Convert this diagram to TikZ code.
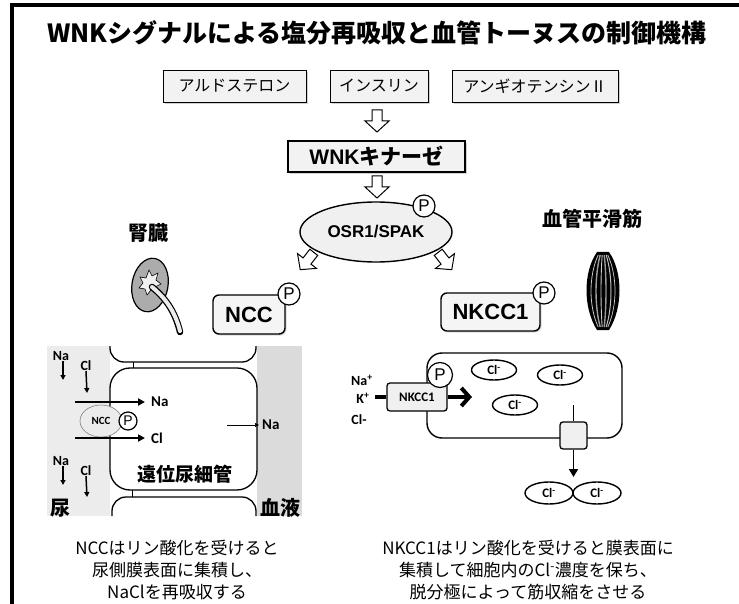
\documentclass[tikz,border=0pt]{standalone}
\usepackage{fontspec}
\setmainfont{Noto Sans CJK JP}
\newfontfamily\arialf{Liberation Sans}
\newfontfamily\calf{Carlito}
\usetikzlibrary{shapes.geometric,arrows.meta,shadows}

\begin{document}
\begin{tikzpicture}[x=1pt,y=-1pt,
  hormone/.style={draw,fill=gray!10,line width=0.9pt,minimum height=32pt,inner sep=0pt,
    font=\fontsize{16}{18}\selectfont,
    drop shadow={shadow xshift=2pt,shadow yshift=-2pt,fill=gray!60,opacity=0.6}},
  kinase/.style={draw,fill=gray!10,line width=1.1pt,minimum height=31pt,inner sep=0pt,
    drop shadow={shadow xshift=2pt,shadow yshift=-2pt,fill=gray!60,opacity=0.6}},
  carrier/.style={draw,fill=gray!8,line width=1.4pt,rounded corners=6pt,inner sep=0pt,
    font=\arialf\bfseries\fontsize{22}{22}\selectfont,
    drop shadow={shadow xshift=1.5pt,shadow yshift=-1.5pt,fill=gray!60,opacity=0.5}},
  hollowarrow/.pic={\draw[fill=white,line width=1pt,line join=miter]
    (-5,-11) -- (5,-11) -- (5,0) -- (12,0) -- (0,11) -- (-12,0) -- (-5,0) -- cycle;},
  pcirc/.style={circle,draw,fill=white,line width=1.2pt,minimum size=#1,inner sep=0pt},
  pbig/.style={pcirc=22pt,font=\arialf\fontsize{17}{17}\selectfont},
  psmall/.style={pcirc=18pt,font=\arialf\fontsize{14}{14}\selectfont},
  ion/.style={font=\calf\bfseries\fontsize{14}{14}\selectfont,inner sep=0pt},
  ionbig/.style={ion,font=\calf\bfseries\fontsize{15}{15}\selectfont},
  chl/.style={ellipse,draw,line width=1.4pt,fill=white,minimum width=45pt,minimum height=20pt,
    inner sep=0pt,font=\calf\bfseries\fontsize{13}{13}\selectfont},
  down/.style={line width=1.5pt,-{Triangle[length=5pt,width=5pt]}},
  flow/.style={line width=1.8pt,-{Triangle[length=7pt,width=7pt]}},
  label/.style={font=\bfseries\fontsize{20}{20}\selectfont,inner sep=0pt},
  note/.style={align=center,font=\fontsize{17}{22}\selectfont,inner sep=0pt},
]
\useasboundingbox (0,0) rectangle (739,604);

% frame
\draw[line width=4pt] (11.5,604) -- (11.5,5.5) -- (739,5.5);

% title
\node[font=\bfseries\fontsize{25}{28}\selectfont] (title) at (377,33)
  {WNKシグナルによる塩分再吸収と血管トーヌスの制御機構};

% hormones
\node[hormone,minimum width=143pt] (ald) at (234.5,86) {アルドステロン};
\node[hormone,minimum width=98pt]  (ins) at (379,86) {インスリン};
\node[hormone,minimum width=166pt] (ang) at (535,86) {アンギオテンシンⅡ};

% cascade
\pic (ar1) at (377,121) {hollowarrow};
\node[kinase,minimum width=177pt] (wnk) at (376.5,156.5)
  {\bfseries\fontsize{21}{21}\selectfont{\arialf WNK}キナーゼ};
\pic (ar2) at (377,187) {hollowarrow};
\node[ellipse,draw,fill=gray!12,line width=1.4pt,minimum width=152pt,minimum height=60pt,
  font=\arialf\bfseries\fontsize{17}{17}\selectfont] (osr) at (376,232) {OSR1/SPAK};
\node[pbig] (posr) at (424,206) {P};

\pic[rotate=-38] (arl) at (307,261) {hollowarrow};
\pic[rotate=38] (arr) at (445,261) {hollowarrow};

\node[carrier,minimum width=72pt,minimum height=39pt] (ncc) at (249,314.5) {NCC};
\node[pbig] (pncc) at (289,294) {P};
\node[carrier,minimum width=99pt,minimum height=38pt] (nkcc) at (490.5,312) {NKCC1};
\node[pbig] (pnkcc) at (544,293) {P};

% organ labels
\node[label] (kid) at (148,233) {腎臓};
\node[label] (vsm) at (592,219) {血管平滑筋};

% kidney
\draw[line width=1.2pt,fill=gray!65] (150,285) ellipse [x radius=18pt,y radius=27pt,rotate=-10];
\fill[gray!12,draw=black,line width=0.6pt]
  (149,270) -- (152,276) -- (158,273) -- (156,280) -- (161,284) -- (155,287)
  -- (157,294) -- (151,290) -- (147,295) -- (145,289) -- (139,288) -- (143,283)
  -- (140,277) -- (146,278) -- cycle;
\draw[line width=6.5pt,line cap=round] (152,287) .. controls (168,300) and (176,315) .. (180,332);
\draw[line width=4pt,gray!15,line cap=round] (152,287) .. controls (168,300) and (176,315) .. (180,331);

% smooth muscle
\fill[black] (597,252) -- (609,252) .. controls (623,272) and (623,308) .. (609,330)
  -- (597,330) .. controls (583,308) and (583,272) .. (597,252) -- cycle;
\foreach \k/\g/\w in {-12/45/0.8,-7/75/1.4,-2/40/0.9,3/80/1.4,8/50/1.0,12/35/0.7} {
  \draw[gray!\g,line width=\w pt] (603+\k*0.4,255) .. controls (603+\k*1.2,276)
    and (603+\k*1.2,306) .. (603+\k*0.4,327);
}

% distal tubule
\fill[gray!15] (47,346) rectangle (110,516);
\fill[gray!28] (257,346) rectangle (302,516);
\draw[line width=1.3pt,rounded corners=14pt] (110,346) -- (110,362) -- (256,362) -- (256,346);
\draw[line width=1.3pt,rounded corners=20pt,fill=white] (110,368) rectangle (257,490);
\draw[line width=1.3pt,rounded corners=14pt] (112,516) -- (112,497) -- (256,497) -- (256,516);
\draw[line width=1pt] (133,362) -- (133,368);
\draw[line width=1pt] (132,490) -- (132,497);

\node[ellipse,draw=gray,fill=gray!15,line width=0.6pt,minimum width=42pt,minimum height=32pt,
  inner sep=0pt,font=\calf\bfseries\fontsize{11}{11}\selectfont] (nccs) at (101,421) {NCC};
\node[psmall] (pnccs) at (128,421) {P};

\coordinate (naS) at (75,402);  \coordinate (naE) at (145,402);
\coordinate (clS) at (75,438);  \coordinate (clE) at (145,438);
\draw[flow] (naS) -- (naE);
\draw[flow] (clS) -- (clE);
\node[ionbig,anchor=west] (naIn) at (151,402) {Na};
\node[ionbig,anchor=west] (clIn) at (151,438) {Cl};
\coordinate (baS) at (227,425); \coordinate (baE) at (259,425);
\draw[line width=0.7pt,-{Triangle[length=4pt,width=4pt]}] (baS) -- (baE);
\node[ionbig,anchor=west] (naOut) at (262,425) {Na};

\node[ion] (na1) at (61,356) {Na};
\node[ion] (cl1) at (86,366) {Cl};
\coordinate (na1e) at (63,380); \coordinate (cl1e) at (87,393);
\draw[down] (na1.south) ++(2pt,0) -- (na1e);
\draw[down] (cl1.south) -- (cl1e);
\node[ion] (na2) at (61,461) {Na};
\node[ion] (cl2) at (86,471) {Cl};
\coordinate (na2e) at (63,485); \coordinate (cl2e) at (87,497);
\draw[down] (na2.south) ++(2pt,0) -- (na2e);
\draw[down] (cl2.south) -- (cl2e);

\node[font=\bfseries\fontsize{19}{19}\selectfont] (dct) at (185,474) {遠位尿細管};
\node[label] (urine) at (60,508) {尿};
\node[label] (blood) at (280,508) {血液};

% smooth muscle cell
\draw[line width=1.4pt,rounded corners=15pt] (427,353) rectangle (622,438);
\node[draw,fill=gray!12,line width=1.3pt,rounded corners=3pt,minimum width=60pt,minimum height=28pt,
  inner sep=0pt,font=\calf\bfseries\fontsize{13}{13}\selectfont] (nkccs) at (417,397) {NKCC1};
\node[pcirc=25pt,font=\arialf\fontsize{17}{17}\selectfont] (pnkccs) at (440,375) {P};
\coordinate (inlet) at (375,397);
\coordinate (intip) at (472,397);
\draw[line width=4pt] (inlet) -- (nkccs.west);
\draw[line width=4pt,-{Straight Barb[length=8pt,width=18pt]}] (nkccs.east) -- (intip);
\node[ion] (naP) at (362,380) {Na\textsuperscript{+}};
\node[ion] (kP) at (363,398) {K\textsuperscript{+}};
\node[ion] (clM) at (359,420) {Cl-};

\node[chl] (c1) at (494,370) {Cl\textsuperscript{-}};
\node[chl] (c2) at (560,375) {Cl\textsuperscript{-}};
\node[chl] (c3) at (515,405) {Cl\textsuperscript{-}};
\node[draw,fill=gray!12,line width=1.3pt,rounded corners=3pt,minimum size=27pt,inner sep=0pt]
  (chan) at (573.5,435.5) {};
\coordinate (chTop) at (573.5,405);
\coordinate (chOut) at (573.5,477);
\draw[line width=1.8pt] (chTop) -- (chan.north);
\draw[line width=1.8pt,-{Triangle[length=8pt,width=9pt]}] (chan.south) -- (chOut);
\node[chl,minimum width=48pt,minimum height=22pt] (c4) at (549,493) {Cl\textsuperscript{-}};
\node[chl,minimum width=48pt,minimum height=22pt] (c5) at (597,493) {Cl\textsuperscript{-}};

% captions
\node[note] (capL) at (177,570)
  {NCCはリン酸化を受けると\\尿側膜表面に集積し、\\NaClを再吸収する};
\node[note] (capR) at (528,570)
  {NKCC1はリン酸化を受けると膜表面に\\集積して細胞内のCl\textsuperscript{-}濃度を保ち、\\脱分極によって筋収縮をさせる};
\end{tikzpicture}
\end{document}
